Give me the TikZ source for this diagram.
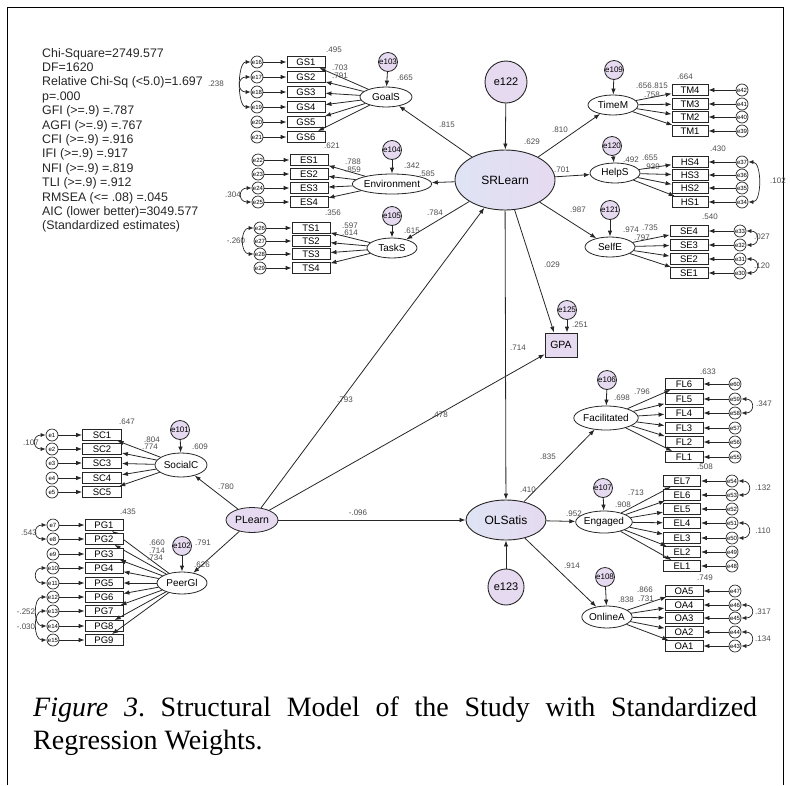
\documentclass[tikz,border=0pt]{standalone}
\usepackage{fontspec}
\setmainfont{Liberation Sans}
\newfontfamily\capfont{Liberation Serif}
\usetikzlibrary{positioning, shapes.geometric, arrows.meta}
\definecolor{lav}{RGB}{230,218,240}
\definecolor{pale}{RGB}{222,228,244}
\frenchspacing

\begin{document}
\begin{tikzpicture}[x=1pt, y=-1pt, % pixel grid of the scan, y runs down
>={Latex[length=6pt, width=4.5pt]},
latent_oval/.style={ellipse, draw=black!85, fill=white, line width=0.8pt, minimum width=50pt, minimum height=20pt, inner sep=0pt, font=\fontsize{10}{10}\selectfont},
main_oval/.style={ellipse, draw=black!85, left color=pale, right color=lav, line width=0.9pt, inner sep=0pt, font=\fontsize{12}{12}\selectfont},
item_box/.style={rectangle, draw=black!85, fill=white, line width=0.8pt, minimum width=38pt, minimum height=11pt, inner sep=0pt, font=\fontsize{9.5}{9.5}\selectfont},
err_small/.style={circle, draw=black!85, fill=white, line width=0.7pt, minimum size=12pt, inner sep=0pt, font=\fontsize{6}{6}\selectfont},
err_disturb/.style={circle, draw=black!85, fill=lav, line width=0.8pt, minimum size=19pt, inner sep=0pt, font=\fontsize{8}{8}\selectfont},
err_main/.style={circle, draw=black!85, fill=lav, line width=0.9pt, minimum size=42pt, inner sep=0pt, font=\fontsize{11}{11}\selectfont},
coef_text/.style={inner sep=0pt, text=black!70, font=\fontsize{8}{8}\selectfont},
out_arrow/.style={->, line width=0.8pt, draw=black!85},
cov_arrow/.style={{Latex[length=5pt, width=4pt]}-{Latex[length=5pt, width=4pt]}, line width=0.7pt, draw=black!85}
]
\useasboundingbox (0,0) rectangle (790,785);
\draw[line width=0.8pt] (7,785) -- (7,7) -- (783,7) -- (783,785);

% fit indices
\node[anchor=north west, align=left, inner sep=0pt, text=black!85, font=\fontsize{12.4}{14.4}\selectfont](fit_stats) at (42,48)
{Chi-Square=2749.577\\DF=1620\\Relative Chi-Sq (<5.0)=1.697\\p=.000\\GFI (>=.9) =.787\\AGFI (>=.9) =.767\\CFI (>=.9) =.916\\IFI (>=.9) =.917\\NFI (>=.9) =.819\\TLI (>=.9) =.912\\RMSEA (<= .08) =.045\\AIC (lower better)=3049.577\\(Standardized estimates)};

% structural part
\node[main_oval, minimum width=100pt, minimum height=60pt](SRLearn) at (505,180) {SRLearn};
\node[err_main](e122) at (506,82) {e122};
\node[main_oval, minimum width=80pt, minimum height=40pt](OLSatis) at (506,520) {OLSatis};
\node[err_main, minimum size=36pt](e123) at (506,587) {e123};
\node[ellipse, draw=black!85, fill=lav, line width=0.8pt, minimum width=52pt, minimum height=25pt, inner sep=0pt, font=\fontsize{10.5}{10.5}\selectfont](PLearn) at (252,520) {PLearn};
\node[rectangle, draw=black!85, fill=lav, line width=0.8pt, minimum width=32pt, minimum height=24pt, inner sep=0pt, font=\fontsize{10.5}{10.5}\selectfont](GPA) at (561,345) {GPA};
\node[err_disturb](e125) at (567,310) {e125};

% first-order factors
\node[latent_oval, minimum width=52pt](GoalS) at (386,97) {GoalS};
\node[err_disturb](e103) at (388,62) {e103};
\node[latent_oval, minimum width=66pt](Environment) at (392,184) {Environment};
\node[err_disturb](e104) at (392,150) {e104};
\node[latent_oval](TaskS) at (392,248) {TaskS};
\node[err_disturb](e105) at (392,216) {e105};
\node[latent_oval](TimeM) at (613,105) {TimeM};
\node[err_disturb](e109) at (614,70) {e109};
\node[latent_oval](HelpS) at (615,173) {HelpS};
\node[err_disturb](e120) at (612,146) {e120};
\node[latent_oval](SelfE) at (610,247) {SelfE};
\node[err_disturb](e121) at (610,210) {e121};
\node[latent_oval, minimum width=52pt, minimum height=24pt](SocialC) at (181,465) {SocialC};
\node[err_disturb](e101) at (180,430) {e101};
\node[latent_oval, minimum height=22pt](PeerGl) at (182,583) {PeerGl};
\node[err_disturb](e102) at (182,546) {e102};
\node[latent_oval, minimum width=56pt, minimum height=24pt](Facilitated) at (606,418) {Facilitated};
\node[err_disturb](e106) at (607,380) {e106};
\node[latent_oval, minimum height=22pt](Engaged) at (604,522) {Engaged};
\node[err_disturb](e107) at (603,488) {e107};
\node[latent_oval, minimum height=22pt](OnlineA) at (607,617) {OnlineA};
\node[err_disturb](e108) at (605,577) {e108};

% paths between factors
\draw[out_arrow](e122) -- (SRLearn);
\draw[out_arrow](SRLearn) -- (GoalS);
\draw[out_arrow](SRLearn) -- (Environment);
\draw[out_arrow](SRLearn) -- (TaskS);
\draw[out_arrow](SRLearn) -- (TimeM);
\draw[out_arrow](SRLearn) -- (HelpS);
\draw[out_arrow](SRLearn) -- (SelfE);
\draw[out_arrow](SRLearn) -- (OLSatis);
\draw[out_arrow](SRLearn) -- ([xshift=-7pt]GPA.north);
\draw[out_arrow](e125) -- ([xshift=6pt]GPA.north);
\draw[out_arrow](PLearn) -- (SRLearn);
\draw[out_arrow](PLearn) -- (GPA);
\draw[out_arrow](PLearn) -- (OLSatis);
\draw[out_arrow](PLearn) -- (SocialC);
\draw[out_arrow](PLearn) -- (PeerGl);
\draw[out_arrow](e123) -- (OLSatis);
\draw[out_arrow](OLSatis) -- (Facilitated);
\draw[out_arrow](OLSatis) -- (Engaged);
\draw[out_arrow](OLSatis) -- (OnlineA);
\foreach \er/\lat in {e103/GoalS, e104/Environment, e105/TaskS, e109/TimeM, e120/HelpS, e121/SelfE, e101/SocialC, e102/PeerGl, e106/Facilitated, e107/Engaged, e108/OnlineA}
  \draw[out_arrow](\er) -- (\lat);

% indicators: name/y/error, box x and error x per factor
\foreach \ind/\yy/\er in {GS1/62/e16, GS2/77/e17, GS3/92/e18, GS4/107/e19, GS5/122/e20, GS6/137/e21}{
  \node[item_box](\ind) at (306,\yy) {\ind};
  \node[err_small](\er) at (257,\yy) {\er};
  \draw[out_arrow](\er) -- (\ind);
  \draw[out_arrow](GoalS) -- (\ind);
}
\foreach \ind/\yy/\er in {ES1/160/e22, ES2/174/e23, ES3/188/e24, ES4/202/e25}{
  \node[item_box](\ind) at (309,\yy) {\ind};
  \node[err_small](\er) at (258,\yy) {\er};
  \draw[out_arrow](\er) -- (\ind);
  \draw[out_arrow](Environment) -- (\ind);
}
\foreach \ind/\yy/\er in {TS1/228/e26, TS2/241/e27, TS3/254/e28, TS4/268/e29}{
  \node[item_box](\ind) at (311,\yy) {\ind};
  \node[err_small](\er) at (260,\yy) {\er};
  \draw[out_arrow](\er) -- (\ind);
  \draw[out_arrow](TaskS) -- (\ind);
}
\foreach \ind/\yy/\er in {TM4/90/e42, TM3/104/e41, TM2/117/e40, TM1/131/e39}{
  \node[item_box, minimum width=36pt](\ind) at (690,\yy) {\ind};
  \node[err_small](\er) at (742,\yy) {\er};
  \draw[out_arrow](\er) -- (\ind);
  \draw[out_arrow](TimeM) -- (\ind);
}
\foreach \ind/\yy/\er in {HS4/162/e37, HS3/175/e36, HS2/188/e35, HS1/202/e34}{
  \node[item_box, minimum width=36pt](\ind) at (690,\yy) {\ind};
  \node[err_small](\er) at (742,\yy) {\er};
  \draw[out_arrow](\er) -- (\ind);
  \draw[out_arrow](HelpS) -- (\ind);
}
\foreach \ind/\yy/\er in {SE4/231/e33, SE3/245/e32, SE2/259/e31, SE1/273/e30}{
  \node[item_box](\ind) at (689,\yy) {\ind};
  \node[err_small](\er) at (740,\yy) {\er};
  \draw[out_arrow](\er) -- (\ind);
  \draw[out_arrow](SelfE) -- (\ind);
}
\foreach \ind/\yy/\er in {SC1/435/e1, SC2/449/e2, SC3/463/e3, SC4/478/e4, SC5/492/e5}{
  \node[item_box, minimum width=39pt](\ind) at (102,\yy) {\ind};
  \node[err_small](\er) at (52,\yy) {\er};
  \draw[out_arrow](\er) -- (\ind);
  \draw[out_arrow](SocialC) -- (\ind);
}
\foreach \ind/\yy/\er in {PG1/525/e7, PG2/539/e8, PG3/554/e9, PG4/568/e10, PG5/583/e11, PG6/597/e12, PG7/611/e13, PG8/626/e14, PG9/640/e15}{
  \node[item_box](\ind) at (104,\yy) {\ind};
  \node[err_small](\er) at (53,\yy) {\er};
  \draw[out_arrow](\er) -- (\ind);
  \draw[out_arrow](PeerGl) -- (\ind);
}
\foreach \ind/\yy/\er in {FL6/384/e60, FL5/399/e59, FL4/413/e58, FL3/428/e57, FL2/442/e56, FL1/457/e55}{
  \node[item_box](\ind) at (684,\yy) {\ind};
  \node[err_small](\er) at (735,\yy) {\er};
  \draw[out_arrow](\er) -- (\ind);
  \draw[out_arrow](Facilitated) -- (\ind);
}
\foreach \ind/\yy/\er in {EL7/481/e54, EL6/495/e53, EL5/509/e52, EL4/523/e51, EL3/538/e50, EL2/552/e49, EL1/566/e48}{
  \node[item_box, minimum width=37pt](\ind) at (682,\yy) {\ind};
  \node[err_small](\er) at (732,\yy) {\er};
  \draw[out_arrow](\er) -- (\ind);
  \draw[out_arrow](Engaged) -- (\ind);
}
\foreach \ind/\yy/\er in {OA5/591/e47, OA4/605/e46, OA3/618/e45, OA2/632/e44, OA1/646/e43}{
  \node[item_box](\ind) at (684,\yy) {\ind};
  \node[err_small](\er) at (735,\yy) {\er};
  \draw[out_arrow](\er) -- (\ind);
  \draw[out_arrow](OnlineA) -- (\ind);
}

% error covariances, left side bulge west, right side bulge east
\foreach \ea/\eb in {e16/e19, e17/e18, e24/e25, e26/e28, e1/e2, e7/e8, e10/e11, e12/e14, e13/e15}
  \draw[cov_arrow](\ea) .. controls +(-20,0) and +(-20,0) .. (\eb);
\foreach \ea/\eb in {e37/e34, e33/e32, e31/e30, e59/e58, e54/e53, e51/e50, e46/e45, e44/e43}
  \draw[cov_arrow](\ea) .. controls +(20,0) and +(20,0) .. (\eb);

% standardized estimates
\foreach \val/\x/\y [count=\k] in {.629/532/142, .815/447/125, .810/560/130, .701/562/170, .987/578/210, .585/427/174, .784/435/213, .342/412/166, .665/405/78, .495/334/50, .621/332/146, .356/333/213, .615/412/231, .788/353/162, .859/353/170, .703/340/68, .791/340/76, .597/350/226, .614/350/233, .238/216/84, .304/233/195, -.260/236/241, .664/685/77, .656/644/86, .815/660/86, .758/652/95, .430/718/149, .492/631/160, .655/650/158, .939/652/167, .102/778/181, .540/710/217, .974/631/230, .735/650/228, .797/642/238, .027/762/237, .120/762/266, .029/552/265, .251/580/325, .714/518/348, .793/345/400, .478/440/415, .647/127/422, .609/200/447, .804/152/440, .774/150/447, .107/31/443, .780/226/487, .435/128/512, .543/29/533, .660/157/543, .714/157/551, .734/155/558, .791/203/543, .626/202/565, -.252/26/612, -.030/26/627, -.096/358/513, .410/528/490, .835/548/457, .952/574/514, .914/572/566, .633/708/372, .796/642/392, .698/622/398, .347/764/404, .508/705/467, .713/636/493, .908/623/505, .132/763/488, .110/763/531, .749/705/578, .838/626/600, .866/645/590, .731/646/599, .317/763/612, .134/763/639}
  \node[coef_text](coef\k) at (\x,\y) {\val};

% caption
\node[anchor=base west, inner sep=0pt, font=\capfont\fontsize{28}{33}\selectfont](cap_line1) at (33,716)
  {\makebox[724pt][s]{\textit{Figure 3}. Structural Model of the Study with Standardized}};
\node[anchor=base west, inner sep=0pt, font=\capfont\fontsize{28}{33}\selectfont](cap_line2) at (33,749) {Regression Weights.};

\end{tikzpicture}
\end{document}
